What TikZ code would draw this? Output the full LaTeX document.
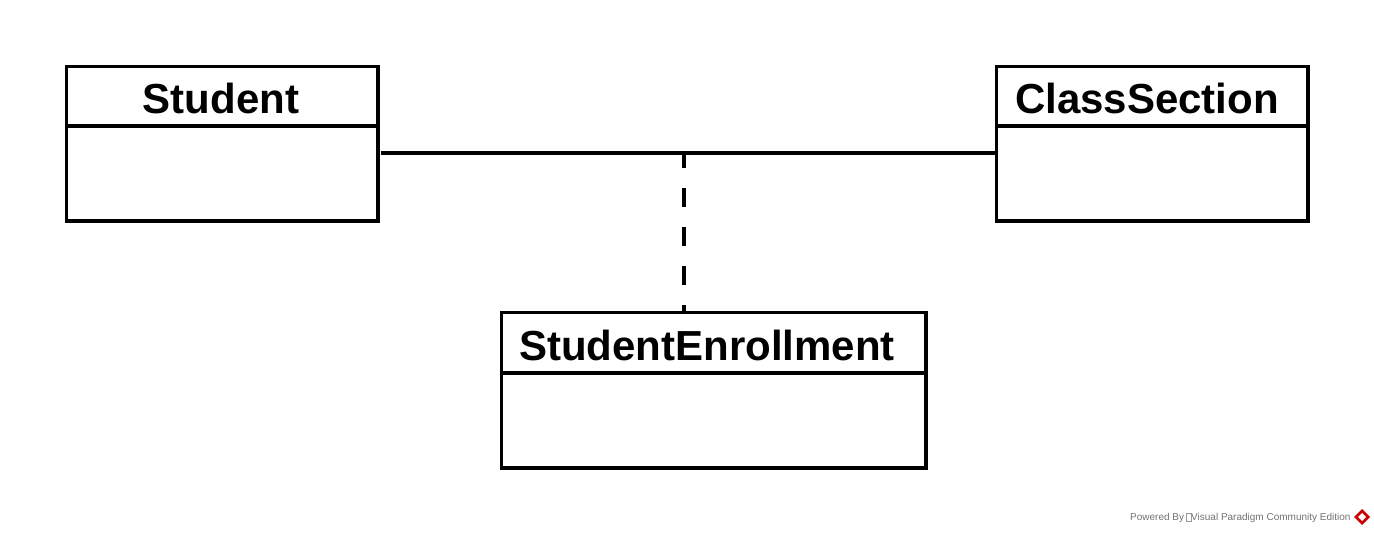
\documentclass[tikz,border=0pt]{standalone}
\usepackage{fontspec}
\setmainfont{Liberation Sans}
\usetikzlibrary{positioning}
\begin{document}
\begin{tikzpicture}[x=1pt,y=-1pt,
  box/.style={draw=black,line width=3.3pt},
  title/.style={font=\bfseries\fontsize{42}{48}\selectfont,inner sep=0pt,anchor=center},
  assoc/.style={draw=black,line width=3.3pt},
  dashlink/.style={draw=black,line width=3.3pt,dash pattern=on 19pt off 20pt,dash phase=4pt},
  footer/.style={font=\fontsize{10}{12}\selectfont,text=black!55,inner sep=0pt,anchor=west}]
\useasboundingbox[fill=white] (0,0) rectangle (1374,534);
% Student
\draw[box] (66.5,66.5) rectangle (378,221);
\draw[box] (66.5,126) -- (378,126);
\node[title] (student) at (221,98) {Student};
\coordinate (sR) at (381,153);
% ClassSection
\draw[box] (996.5,66.5) rectangle (1308,221);
\draw[box] (996.5,126) -- (1308,126);
\node[title] (class) at (1147,98) {ClassSection};
\coordinate (cL) at (998,153);
% StudentEnrollment
\draw[box] (501.5,312.5) rectangle (926,468);
\draw[box] (501.5,373) -- (926,373);
\node[title] (enroll) at (707,345) {StudentEnrollment};
\coordinate (eT) at (684,312);
% connectors
\draw[assoc] (sR) -- (cL);
\coordinate (mid) at (684,153);
\draw[dashlink] (mid) -- (eT);
% footer
\node[footer] (pow) at (1130,518) {Powered By\,\raisebox{-0.5pt}{\tikz\draw[black!40,line width=0.4pt] (0,0) rectangle (5pt,-8pt);}Visual Paradigm Community Edition};
\fill[red!80!black] (1362,509) -- (1370,517) -- (1362,525) -- (1354,517) -- cycle;
\fill[white] (1362,513) -- (1366,517) -- (1362,521) -- (1358,517) -- cycle;
\end{tikzpicture}
\end{document}
